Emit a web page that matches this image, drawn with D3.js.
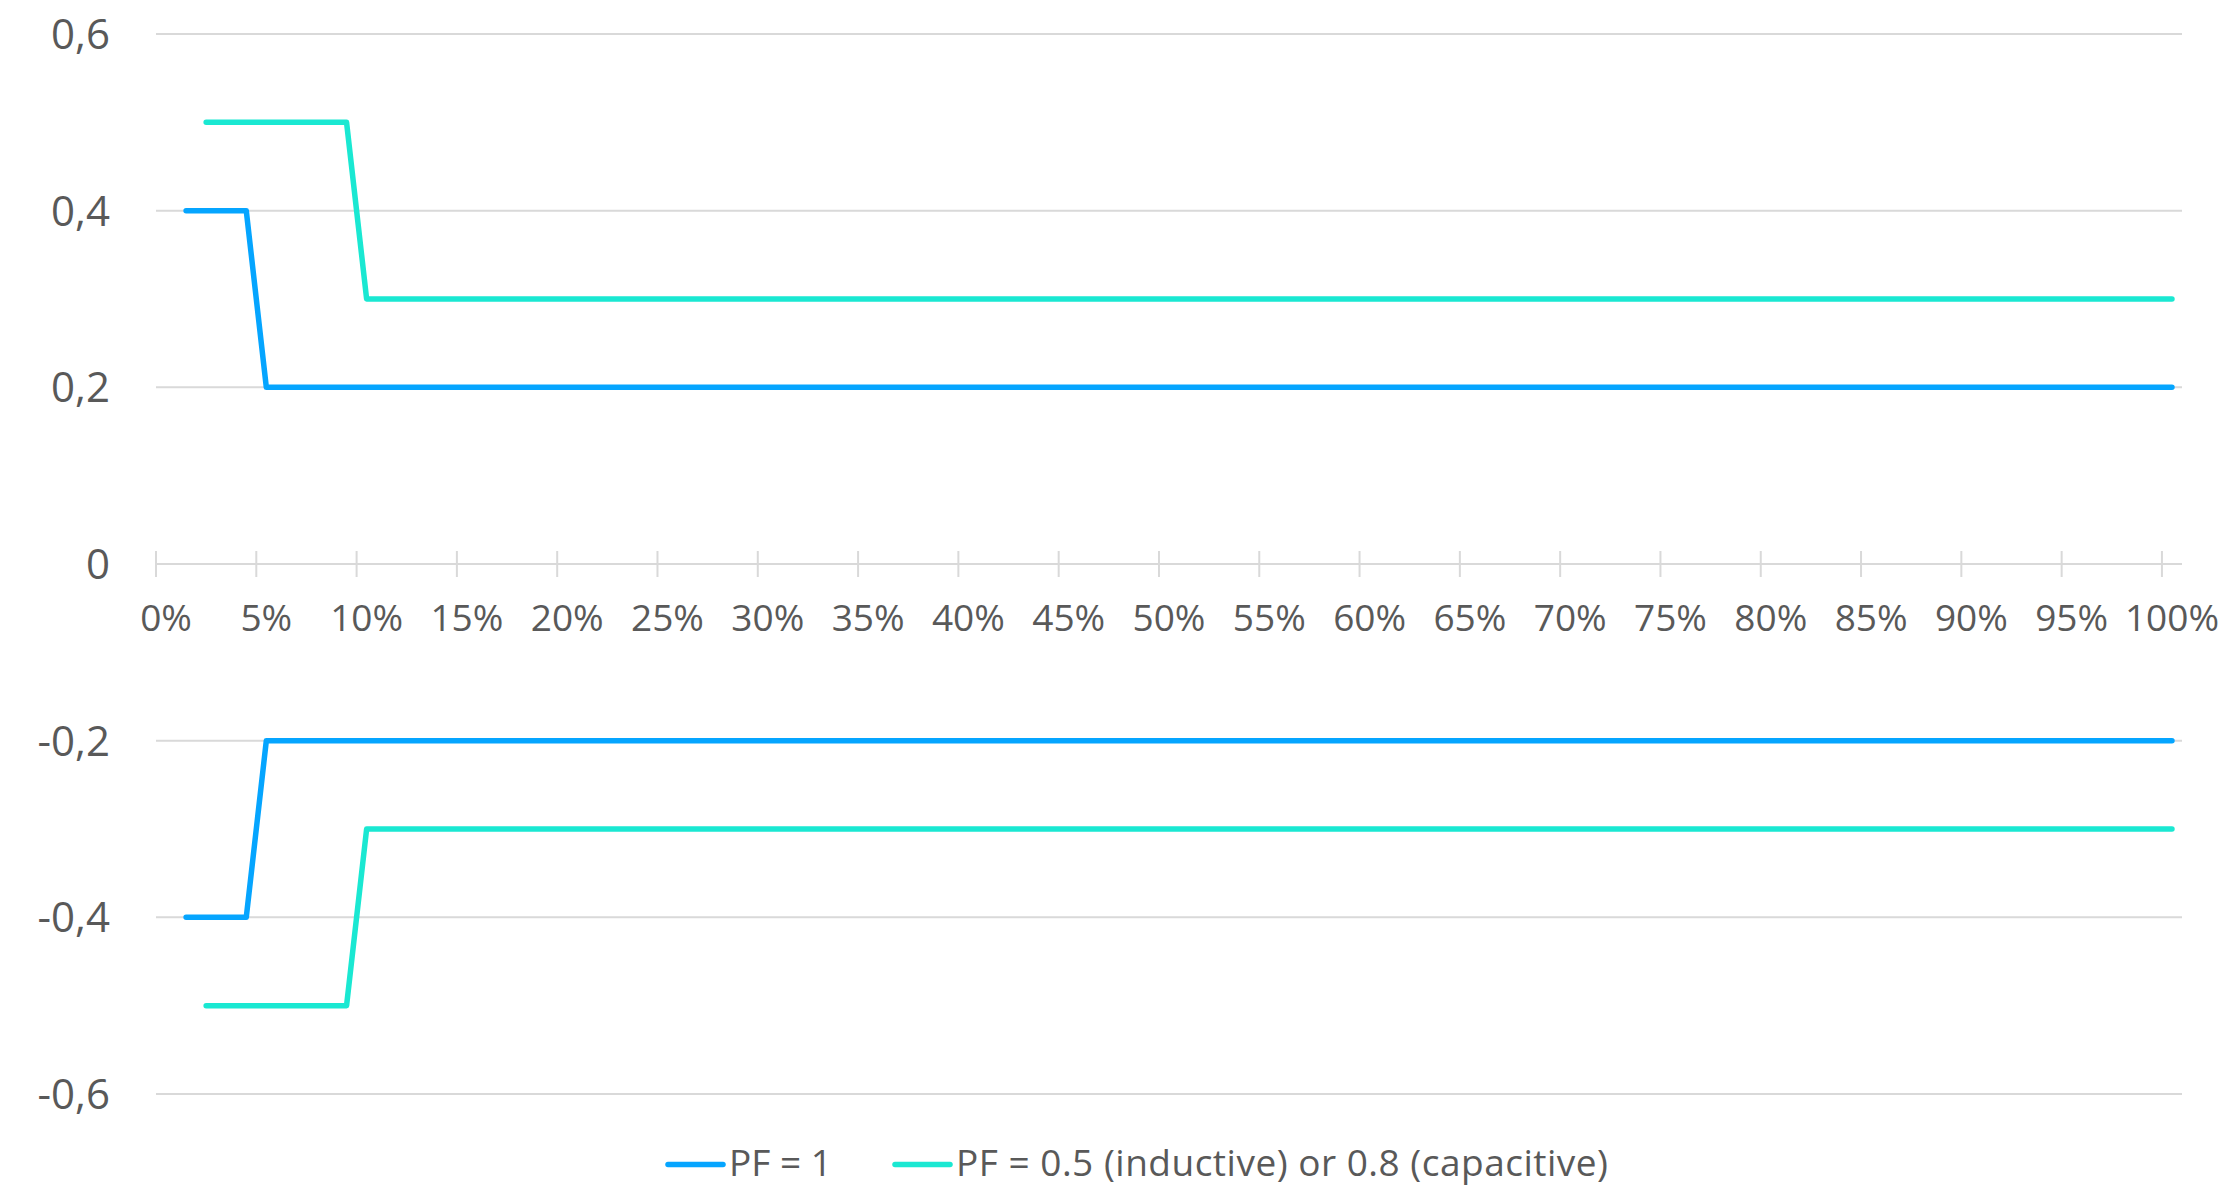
<!DOCTYPE html>
<html>
<head>
<meta charset="utf-8">
<script src="https://cdn.jsdelivr.net/npm/d3@7"></script>
<style>
  html, body { margin: 0; padding: 0; background: #fff; }
  svg { display: block; }
  text { font-family: "Open Sans", sans-serif; fill: #595959; }
</style>
</head>
<body>
<script>
// Load share categories, 0% to 100% in 1% steps
const loadPercent = d3.range(0, 101);
const xTickLabels = ["0%","5%","10%","15%","20%","25%","30%","35%","40%","45%","50%",
                     "55%","60%","65%","70%","75%","80%","85%","90%","95%","100%"];
const yTicks = [-0.6, -0.4, -0.2, 0, 0.2, 0.4, 0.6];
const yTickLabels = ["-0,6", "-0,4", "-0,2", "0", "0,2", "0,4", "0,6"];

// Step limits as [load %, value] vertices
const pfUnityUpper = [[1, 0.4], [4, 0.4], [5, 0.2], [100, 0.2]];
const pfUnityLower = [[1, -0.4], [4, -0.4], [5, -0.2], [100, -0.2]];
const pfReactiveUpper = [[2, 0.5], [9, 0.5], [10, 0.3], [100, 0.3]];
const pfReactiveLower = [[2, -0.5], [9, -0.5], [10, -0.3], [100, -0.3]];

const seriesNames = ["PF = 1", "PF = 0.5 (inductive) or 0.8 (capacitive)"];
const seriesColors = ["#05A5FF", "#1AE8D2"];

const W = 2233, H = 1188;
const svg = d3.select("body").append("svg").attr("width", W).attr("height", H);

const x = d3.scaleBand().domain(loadPercent).range([156, 2182]).padding(0);
const y = d3.scaleLinear().domain([-0.6, 0.6]).range([1094, 34]);

// Horizontal gridlines (zero line drawn with the category axis)
svg.append("g").selectAll("line")
  .data(yTicks.filter(v => v !== 0))
  .join("line")
  .attr("x1", x.range()[0]).attr("x2", x.range()[1])
  .attr("y1", d => y(d)).attr("y2", d => y(d))
  .attr("stroke", "#D9D9D9").attr("stroke-width", 2);

// Y labels
svg.append("g").selectAll("text")
  .data(yTicks)
  .join("text")
  .attr("x", 110)
  .attr("y", d => y(d))
  .attr("dy", "0.36em")
  .attr("text-anchor", "end")
  .style("font-size", "42px")
  .text((d, i) => yTickLabels[i]);

// Category axis at zero with cross ticks every 5%
const axisG = svg.append("g");
axisG.append("line")
  .attr("x1", x.range()[0]).attr("x2", x.range()[1])
  .attr("y1", y(0)).attr("y2", y(0))
  .attr("stroke", "#D9D9D9").attr("stroke-width", 2);
const tickCats = loadPercent.filter(p => p % 5 === 0);
axisG.selectAll("line.tick")
  .data(tickCats)
  .join("line")
  .attr("class", "tick")
  .attr("x1", d => x(d)).attr("x2", d => x(d))
  .attr("y1", y(0) - 13).attr("y2", y(0) + 13)
  .attr("stroke", "#D9D9D9").attr("stroke-width", 2);
axisG.selectAll("text")
  .data(tickCats)
  .join("text")
  .attr("x", d => x(d) + x.bandwidth() / 2)
  .attr("y", 631)
  .attr("text-anchor", "middle")
  .style("font-size", "37px")
  .text((d, i) => xTickLabels[i]);

// Series lines
const line = d3.line()
  .x(d => x(d[0]) + x.bandwidth() / 2)
  .y(d => y(d[1]));

const lines = [
  { data: pfUnityUpper, color: seriesColors[0] },
  { data: pfUnityLower, color: seriesColors[0] },
  { data: pfReactiveUpper, color: seriesColors[1] },
  { data: pfReactiveLower, color: seriesColors[1] }
];
svg.append("g").selectAll("path")
  .data(lines)
  .join("path")
  .attr("d", d => line(d.data))
  .attr("fill", "none")
  .attr("stroke", d => d.color)
  .attr("stroke-width", 5.5)
  .attr("stroke-linejoin", "round")
  .attr("stroke-linecap", "round");

// Legend
const legendX = [668, 895];
const legendSpacing = ["0px", "0.5px"];
const legend = svg.append("g");
seriesNames.forEach((name, i) => {
  legend.append("line")
    .attr("x1", legendX[i]).attr("x2", legendX[i] + 55)
    .attr("y1", 1164.5).attr("y2", 1164.5)
    .attr("stroke", seriesColors[i]).attr("stroke-width", 5.5)
    .attr("stroke-linecap", "round");
  legend.append("text")
    .attr("x", legendX[i] + 61)
    .attr("y", 1176)
    .style("font-size", "37px")
    .style("letter-spacing", legendSpacing[i])
    .text(name);
});
</script>
</body>
</html>
